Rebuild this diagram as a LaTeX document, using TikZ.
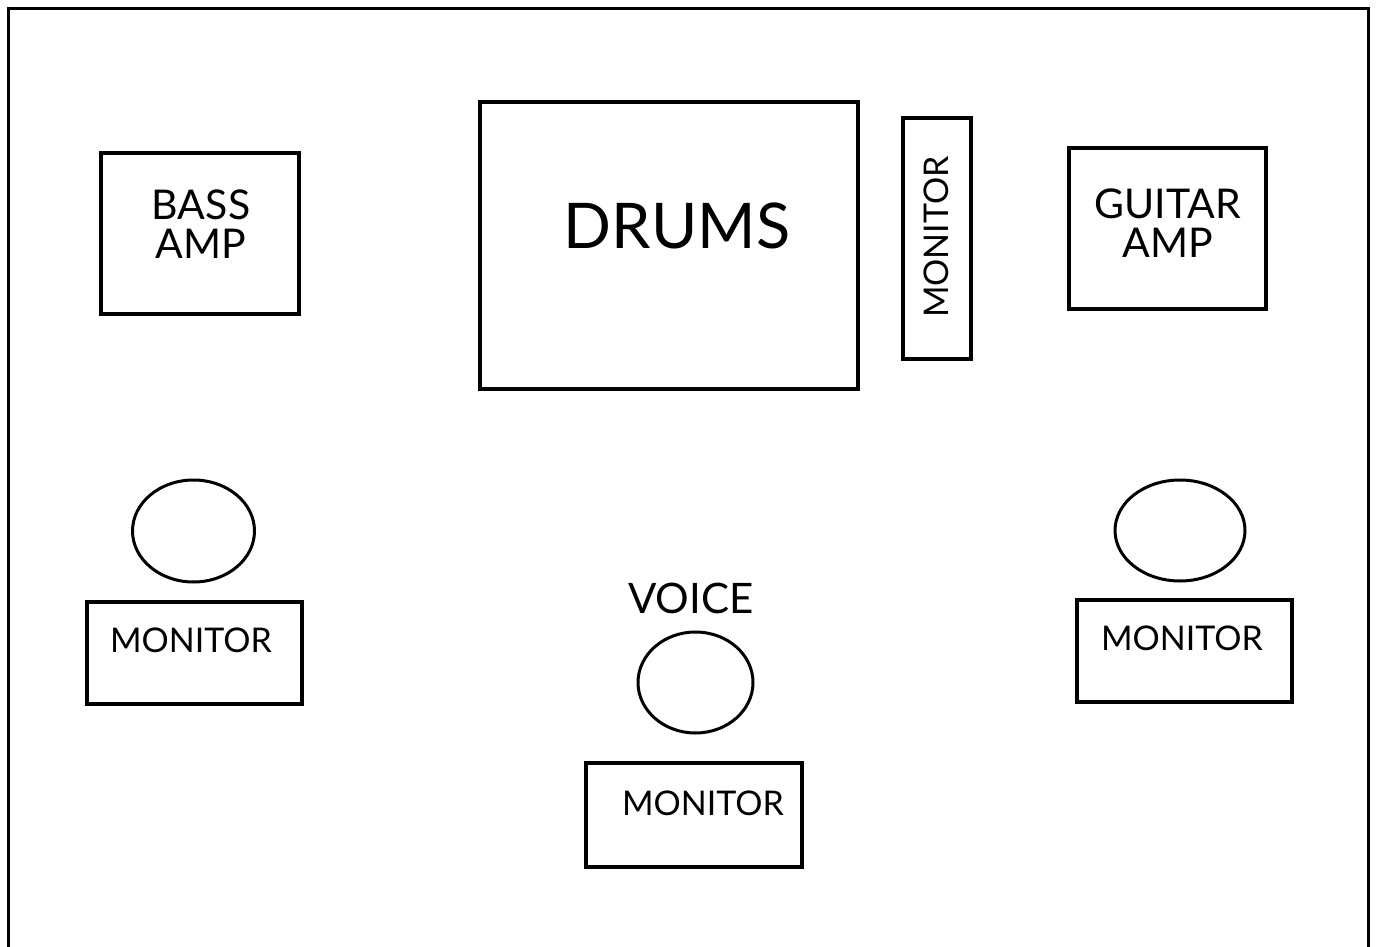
\documentclass[tikz,border=0pt]{standalone}
\usepackage{fontspec}
\setmainfont{Lato}
\usetikzlibrary{shapes.geometric,positioning}

\begin{document}
\begin{tikzpicture}[x=1pt, y=-1pt]
        \tikzset{
                basic/.style  = {draw, line width=3.5pt, rectangle, inner sep=0pt},
                player/.style = {draw, line width=3pt, ellipse, inner sep=0pt},
                caption/.style = {inner sep=0pt, align=center, font=\fontsize{34}{37}\selectfont}
        }
        \useasboundingbox (0,0) rectangle (1377,947);
        % stage outline, open towards the audience
        \draw[line width=3.5pt] (8.5,947) -- (8.5,8.5) -- (1368.5,8.5) -- (1368.5,947);

        % back line
        \node[basic, minimum width=198, minimum height=161] (bass) at (200,233.5) {};
        \node[basic, minimum width=378, minimum height=287] (drums) at (669,245.5) {};
        \node[basic, minimum width=68, minimum height=241] (drummon) at (937,238.5) {};
        \node[basic, minimum width=197, minimum height=161] (guitar) at (1167.5,228.5) {};

        \node[caption, font=\fontsize{41}{39}\selectfont] (basstxt) at (201,224) {BASS\\AMP};
        \node[caption, font=\fontsize{63}{70}\selectfont] (drumstxt) at (677,226) {DRUMS};
        \node[caption, rotate=90] (drummontxt) at (936,237) {MONITOR};
        \node[caption, font=\fontsize{41}{39}\selectfont] (guitartxt) at (1168,223) {GUITAR\\AMP};

        % front line: players and their wedges
        \node[player, minimum width=122, minimum height=102] (left) at (193.5,531) {};
        \node[player, minimum width=115, minimum height=101] (voice) at (695.5,682.5) {};
        \node[player, minimum width=130, minimum height=101] (right) at (1180,530.5) {};

        \node[caption, font=\fontsize{42}{40}\selectfont] (voicetxt) at (691,598) {VOICE};

        \node[basic, minimum width=215, minimum height=102] (leftmon) at (194.5,653) {};
        \node[basic, minimum width=216, minimum height=104] (voicemon) at (694,815) {};
        \node[basic, minimum width=215, minimum height=102] (rightmon) at (1184.5,651) {};

        \node[caption] (leftmontxt) at (191,640) {MONITOR};
        \node[caption] (voicemontxt) at (703,803) {MONITOR};
        \node[caption] (rightmontxt) at (1182,638) {MONITOR};
\end{tikzpicture}
\end{document}
